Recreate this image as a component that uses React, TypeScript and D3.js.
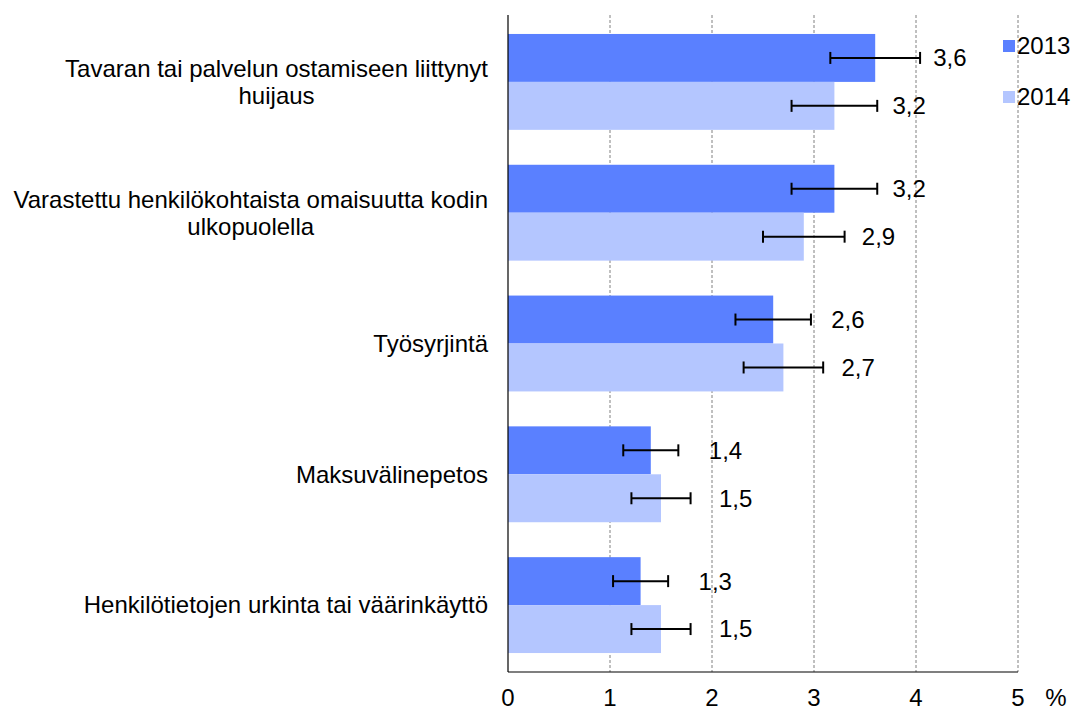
import React from "react";
import * as d3 from "d3";

const categories: string[][] = [
  ["Tavaran tai palvelun ostamiseen liittynyt", "huijaus"],
  ["Varastettu henkilökohtaista omaisuutta kodin", "ulkopuolella"],
  ["Työsyrjintä"],
  ["Maksuvälinepetos"],
  ["Henkilötietojen urkinta tai väärinkäyttö"],
];
const seriesNames = ["2013", "2014"];
const values2013 = [3.6, 3.2, 2.6, 1.4, 1.3];
const values2014 = [3.2, 2.9, 2.7, 1.5, 1.5];
const err2013 = [0.44, 0.42, 0.37, 0.27, 0.27];
const err2014 = [0.42, 0.4, 0.39, 0.29, 0.29];
const xTicks = [0, 1, 2, 3, 4, 5];
const colors = ["#5A80FF", "#B4C6FF"];

const W = 1074;
const H = 711;
const left = 508;
const right = 1018;
const top = 15;
const bottom = 672;
const font = "'Liberation Sans', Arial, sans-serif";
const FS = 24;

let ctx: CanvasRenderingContext2D | null = null;
function measure(t: string): number {
  if (!ctx) {
    const c = document.createElement("canvas");
    ctx = c.getContext("2d");
  }
  if (!ctx) return t.length * FS * 0.5;
  ctx.font = `${FS}px 'Liberation Sans', Arial, sans-serif`;
  return ctx.measureText(t).width;
}

export default function App() {
  const x = d3.scaleLinear().domain([0, 5]).range([left, right]);
  const keys = categories.map((c, i) => String(i));
  const y = d3
    .scaleBand<string>()
    .domain(keys)
    .range([top, bottom])
    .paddingInner(0.267)
    .paddingOuter(0.145);
  const ys = d3
    .scaleBand<string>()
    .domain(seriesNames)
    .range([0, y.bandwidth()])
    .padding(0);
  const series = [
    { name: "2013", vals: values2013, errs: err2013 },
    { name: "2014", vals: values2014, errs: err2014 },
  ];
  const fmt = (v: number) => v.toFixed(1).replace(".", ",");
  const labelRight = 488;

  return (
    <svg
      width={W}
      height={H}
      style={{ position: "absolute", left: 0, top: 0, fontFamily: font }}
    >
      <rect x={0} y={0} width={W} height={H} fill="#fff" />
      {xTicks.slice(1).map((t) => (
        <line
          key={"g" + t}
          x1={x(t)}
          x2={x(t)}
          y1={top}
          y2={bottom}
          stroke="#808080"
          strokeWidth={1}
          strokeDasharray="3,2"
        />
      ))}
      {series.map((s, si) =>
        s.vals.map((v, i) => {
          const by = (y(keys[i]) as number) + (ys(s.name) as number);
          const bh = ys.bandwidth();
          const cy = by + bh / 2;
          const lo = x(v - s.errs[i]);
          const hi = x(v + s.errs[i]);
          return (
            <g key={s.name + i}>
              <rect
                x={x(0)}
                y={by}
                width={x(v) - x(0)}
                height={bh}
                fill={colors[si]}
              />
              <line x1={lo} x2={hi} y1={cy} y2={cy} stroke="#000" strokeWidth={2} />
              <line x1={lo} x2={lo} y1={cy - 6} y2={cy + 6} stroke="#000" strokeWidth={2} />
              <line x1={hi} x2={hi} y1={cy - 6} y2={cy + 6} stroke="#000" strokeWidth={2} />
              <text
                x={x(v) + 58}
                y={cy}
                dy="0.35em"
                fontSize={FS}
                fill="#000"
              >
                {fmt(v)}
              </text>
            </g>
          );
        })
      )}
      <line x1={left} x2={left} y1={top} y2={bottom} stroke="#000" strokeWidth={1.2} />
      <line x1={left} x2={right} y1={bottom} y2={bottom} stroke="#000" strokeWidth={1.2} />
      {xTicks.map((t) => (
        <text
          key={"t" + t}
          x={x(t)}
          y={698}
          dy="0.35em"
          textAnchor="middle"
          fontSize={FS}
          fill="#000"
        >
          {t}
        </text>
      ))}
      <text x={1056} y={698} dy="0.35em" textAnchor="middle" fontSize={FS} fill="#000">
        %
      </text>
      {categories.map((lines, i) => {
        const cy = (y(keys[i]) as number) + y.bandwidth() / 2;
        const lh = 27;
        const y0 = cy - ((lines.length - 1) * lh) / 2;
        const maxW = Math.max(...lines.map(measure));
        const cx = labelRight - maxW / 2;
        return (
          <g key={"c" + i}>
            {lines.map((ln, li) => (
              <text
                key={li}
                x={cx}
                y={y0 + li * lh}
                dy="0.35em"
                textAnchor="middle"
                fontSize={FS}
                fill="#000"
              >
                {ln}
              </text>
            ))}
          </g>
        );
      })}
      {seriesNames.map((n, i) => (
        <g key={"l" + n}>
          <rect x={1003} y={40 + i * 51} width={12} height={12} fill={colors[i]} />
          <text x={1017} y={46 + i * 51} dy="0.35em" fontSize={FS} fill="#000">
            {n}
          </text>
        </g>
      ))}
    </svg>
  );
}
